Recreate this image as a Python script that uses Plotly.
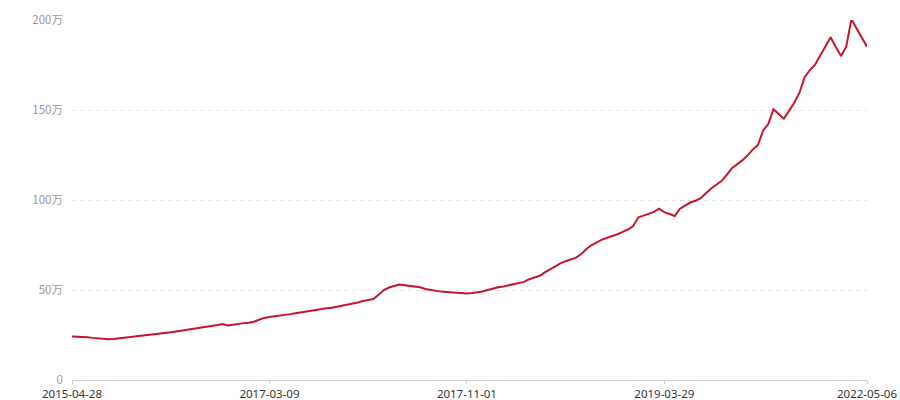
import plotly.graph_objects as go

# values in 万, one per observation (category axis, evenly spaced)
values = [
    24.1, 24.0, 24.1, 23.8, 23.4, 23.1, 22.9, 22.6, 22.8, 23.1,
    23.4, 23.8, 24.0, 24.4, 24.8, 25.1, 25.3, 25.6, 26.0, 26.5,
    27.0, 27.4, 27.9, 28.4, 28.9, 29.4, 29.8, 30.2, 30.5, 31.1,
    30.3, 30.7, 31.3, 31.6, 31.8, 32.4, 33.5, 34.5, 35.0, 35.3,
    35.6, 36.1, 36.6, 37.1, 37.6, 38.1, 38.7, 39.2, 39.5, 39.8,
    40.2, 40.7, 41.2, 41.7, 42.2, 43.1, 43.9, 44.3, 45.0, 47.3,
    50.0, 51.4, 52.3, 53.1, 52.7, 52.3, 52.0, 51.5, 50.6, 50.0,
    49.4, 49.1, 48.9, 48.7, 48.5, 48.2, 48.0, 48.3, 48.6, 49.2,
    50.0, 50.9, 51.5, 52.0, 52.7, 53.2, 53.7, 54.5, 56.0, 57.0,
    57.9, 59.8, 61.5, 63.3, 64.8, 66.0, 67.1, 68.0, 70.0, 72.8,
    75.0, 76.5, 78.0, 79.0, 79.8, 81.0, 82.3, 83.6, 85.5, 90.4,
    91.3, 92.2, 93.4, 95.2, 93.3, 92.2, 91.1, 95.2, 97.0, 98.6,
    99.6, 101.0, 103.7, 106.4, 108.5, 110.5, 114.0, 117.6, 119.8, 122.0,
    124.8, 128.0, 130.5, 138.5, 142.2, 150.4, 147.8, 145.2, 149.5, 154.0,
    159.6, 168.2, 172.2, 175.2, 180.3, 185.4, 190.4, 185.0, 180.0, 185.2,
    200.4, 195.3, 190.2, 185.2,
]

# x-axis labels and the observation they sit on
tick_idx = [0, 38, 76, 114, 153]
tick_dates = ["2015-04-28", "2017-03-09", "2017-11-01", "2019-03-29", "2022-05-06"]

y_ticks = [0, 50, 100, 150, 200]
y_labels = ["0", "50万", "100万", "150万", "200万"]

x = list(range(len(values)))

fig = go.Figure()
fig.add_trace(go.Scatter(x=x, y=values, mode="lines",
                         line=dict(color="#c8152d", width=2),
                         hoverinfo="skip", cliponaxis=False))

fig.update_xaxes(range=[0, len(values) - 1], automargin=False,
                 tickvals=tick_idx, ticktext=tick_dates,
                 showgrid=False, zeroline=False,
                 showline=True, linecolor="#cccccc", linewidth=1,
                 ticks="outside", ticklen=3, tickcolor="#cccccc",
                 tickfont=dict(family="Noto Sans", size=11.5, color="#333333"))
fig.update_yaxes(range=[0, 200], automargin=False,
                 tickvals=y_ticks, ticktext=y_labels,
                 showgrid=True, gridcolor="#e6e6e6", griddash="4px,4px",
                 zeroline=False, showline=False, ticks="",
                 ticklabelstandoff=8,
                 tickfont=dict(size=11.5, color="#999999"))

fig.update_layout(width=900, height=400,
                  margin=dict(l=72, r=33, t=20, b=20),
                  plot_bgcolor="white", paper_bgcolor="white",
                  showlegend=False,
                  font=dict(family="Noto Sans CJK SC, Noto Sans, sans-serif"))

# page has a default 8px body margin; drop it so the figure sits at 0,0
fig.write_html("out.html", config={"displayModeBar": False},
               post_script="document.body.style.margin='0';")
